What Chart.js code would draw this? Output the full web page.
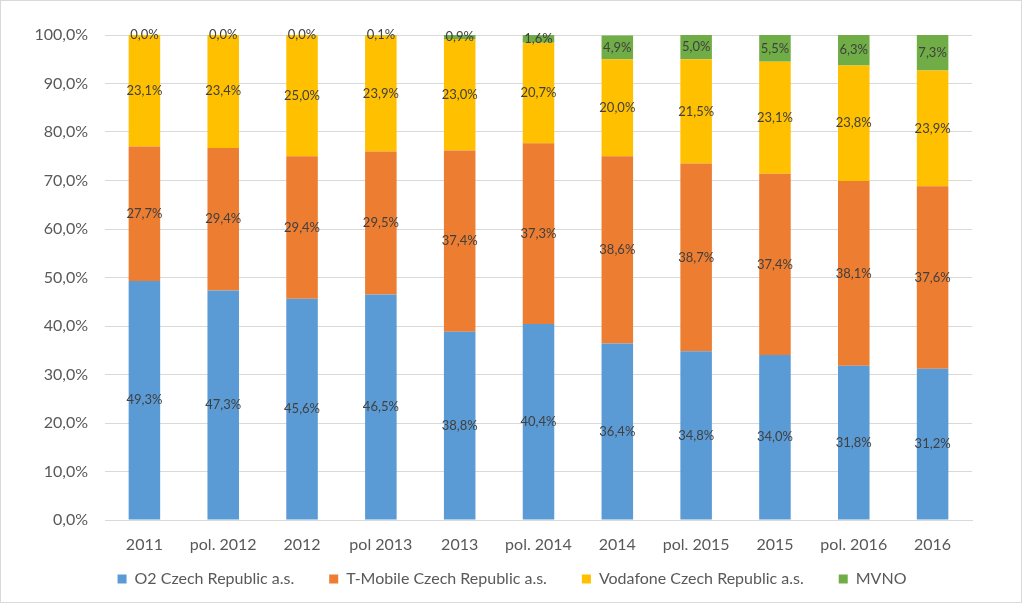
<!DOCTYPE html>
<html><head><meta charset="utf-8">
<script src="https://cdn.jsdelivr.net/npm/chart.js@4/dist/chart.umd.min.js"></script>
<style>
html,body{margin:0;padding:0;background:#fff;}
#wrap{position:relative;width:1024px;height:604px;}
#frame{position:absolute;left:0;top:0;width:1022px;height:603px;border:1px solid #d9d9d9;box-sizing:border-box;pointer-events:none;}
</style></head>
<body>
<div id="wrap"><canvas id="c" width="1024" height="604"></canvas><div id="frame"></div></div>
<script>
const categories = ['2011','pol. 2012','2012','pol 2013','2013','pol. 2014','2014','pol. 2015','2015','pol. 2016','2016'];
const o2Values       = [49.3, 47.3, 45.6, 46.5, 38.8, 40.4, 36.4, 34.8, 34.0, 31.8, 31.2];
const tmobileValues  = [27.7, 29.4, 29.4, 29.5, 37.4, 37.3, 38.6, 38.7, 37.4, 38.1, 37.6];
const vodafoneValues = [23.1, 23.4, 25.0, 23.9, 23.0, 20.7, 20.0, 21.5, 23.1, 23.8, 23.9];
const mvnoValues     = [0.0, 0.0, 0.0, 0.1, 0.9, 1.6, 4.9, 5.0, 5.5, 6.3, 7.3];
const seriesNames = ['O2 Czech Republic a.s.','T-Mobile Czech Republic a.s.','Vodafone Czech Republic a.s.','MVNO'];
const yTicks = [0,10,20,30,40,50,60,70,80,90,100];

const FONT = 'Lato, "Open Sans", sans-serif';
const fmt = v => v.toFixed(1).replace('.', ',') + '%';
const LEG_FONT = 16, LEG_PAD = 35;

const dataLabels = {
  id: 'dataLabels',
  afterDatasetsDraw(chart) {
    const ctx = chart.ctx;
    ctx.save();
    ctx.font = '13px ' + FONT;
    ctx.fillStyle = '#404040';
    ctx.textAlign = 'center';
    ctx.textBaseline = 'middle';
    chart.data.datasets.forEach((ds, i) => {
      const meta = chart.getDatasetMeta(i);
      meta.data.forEach((el, j) => {
        const p = el.getProps(['x','y','base'], true);
        ctx.fillText(fmt(ds.data[j]), p.x, (p.y + p.base) / 2);
      });
    });
    ctx.restore();
  }
};
const legendPlace = {
  id: 'legendPlace',
  afterLayout(chart) {
    const l = chart.legend;
    const dx = (1024 - (l.left + l.right)) / 2;
    l.left += dx; l.right += dx;
    l.top = 579 - LEG_PAD - LEG_FONT / 2;
    l.bottom = 604;
  }
};

new Chart(document.getElementById('c'), {
  type: 'bar',
  data: {
    labels: categories,
    datasets: [
      {label: seriesNames[0], data: o2Values, backgroundColor: '#5B9BD5'},
      {label: seriesNames[1], data: tmobileValues, backgroundColor: '#ED7D31'},
      {label: seriesNames[2], data: vodafoneValues, backgroundColor: '#FFC000'},
      {label: seriesNames[3], data: mvnoValues, backgroundColor: '#70AD47'}
    ]
  },
  options: {
    responsive: false,
    animation: false,
    events: [],
    categoryPercentage: 1,
    barPercentage: 0.4,
    layout: {padding: {top: 35, right: 52, left: 0, bottom: 0}},
    scales: {
      x: {
        stacked: true,
        grid: {display: false, drawTicks: false},
        border: {color: '#d9d9d9'},
        ticks: {font: {family: FONT, size: 16}, color: '#595959', padding: 15, maxRotation: 0, autoSkip: false},
        afterFit(s) { s.height = 41.5; }
      },
      y: {
        stacked: true,
        min: 0, max: 100,
        afterBuildTicks(s) { s.ticks = yTicks.map(v => ({value: v})); },
        grid: {color: '#d9d9d9', drawTicks: false},
        border: {display: false},
        ticks: {font: {family: FONT, size: 16}, color: '#595959', padding: 17, callback: v => fmt(v)},
        afterFit(s) { s.width = 105; }
      }
    },
    plugins: {
      legend: {
        position: 'bottom',
        maxHeight: 42.5,
        labels: {font: {family: FONT, size: LEG_FONT}, color: '#595959', boxWidth: 9, boxHeight: 9, padding: LEG_PAD}
      },
      tooltip: {enabled: false}
    }
  },
  plugins: [dataLabels, legendPlace]
});
</script>
</body></html>
